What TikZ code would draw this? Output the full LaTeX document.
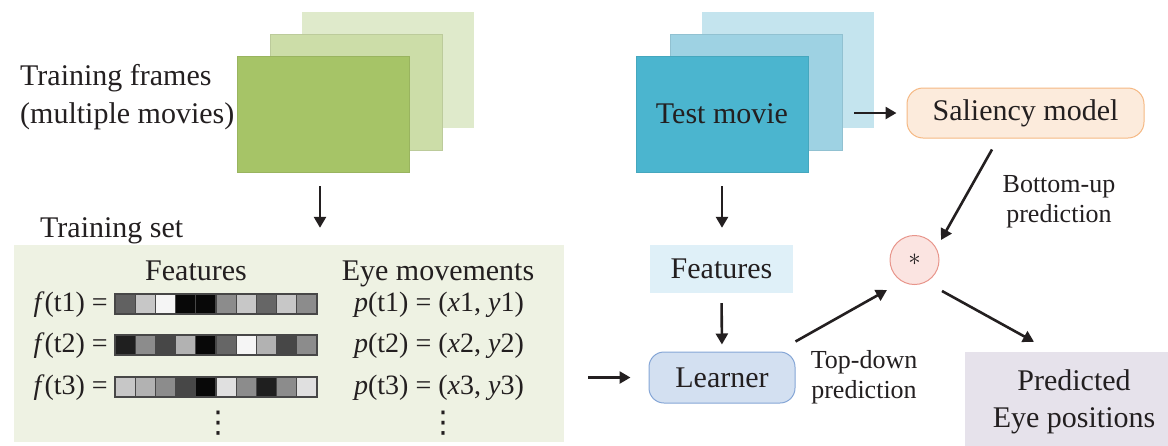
\documentclass[tikz,border=0pt]{standalone}
\usepackage{fontspec}
\setmainfont{Liberation Serif}
\newfontfamily\symfont{DejaVu Sans}
\usetikzlibrary{arrows.meta}

\definecolor{ink}{HTML}{231F20}
\definecolor{gA}{HTML}{A6C467}
\definecolor{gB}{HTML}{CCDDA8}
\definecolor{gC}{HTML}{DFEACB}
\definecolor{bA}{HTML}{4BB5CF}
\definecolor{bB}{HTML}{9ED2E3}
\definecolor{bC}{HTML}{C4E4EE}
\definecolor{setbg}{HTML}{EEF2E3}
\definecolor{featbg}{HTML}{DFF0F8}
\definecolor{learnbg}{HTML}{D3E0F1}
\definecolor{learnln}{HTML}{85A6D6}
\definecolor{salbg}{HTML}{FCEBDC}
\definecolor{salln}{HTML}{F5B883}
\definecolor{mulbg}{HTML}{FBE4E1}
\definecolor{mulln}{HTML}{E8958B}
\definecolor{predbg}{HTML}{E6E2EB}

\begin{document}
\begin{tikzpicture}[x=1pt,y=-1pt,
  every node/.style={text=ink},
  lbl/.style={font=\fontsize{30}{37}\selectfont, inner sep=0pt, align=center},
  small/.style={font=\fontsize{26}{30}\selectfont, inner sep=0pt, align=center},
  rowtxt/.style={font=\fontsize{28}{32}\selectfont, inner sep=0pt},
  vdotstxt/.style={font=\symfont\fontsize{30}{30}\selectfont, inner sep=0pt},
  frame/.style={rectangle, inner sep=0pt, minimum width=172, minimum height=116},
  arr/.style={draw=ink, line width=2.6pt, -{Triangle[length=11pt,width=12pt]}},
  cell/.style={draw=black!72, line width=1.3pt}]

\useasboundingbox (0,0) rectangle (1168,445);

% ---- training frames (stacked) ----
\node[frame, fill=gC] (gb) at (388,69.5) {};
\node[frame, fill=gB, draw=gB!92!black, line width=0.6pt] (gm) at (356.5,92) {};
\node[frame, fill=gA, draw=gA!92!black, line width=0.6pt] (gf) at (323,114) {};
\node[lbl, anchor=base west] (tf1) at (20,85) {Training frames};
\node[lbl, anchor=base west] (tf2) at (20,123) {(multiple movies)};

% ---- training set ----
\node[rectangle, fill=setbg, inner sep=0pt, minimum width=550, minimum height=197] (ts) at (289,343.5) {};
\node[lbl, anchor=base west] (tsl) at (40,237) {Training set};
\node[lbl, anchor=base] (fh) at (196,280) {Features};
\node[lbl, anchor=base] (eh) at (438,280) {Eye movements};

\foreach \yc/\vals [count=\r] in {304/{38,78,96,3,3,55,78,40,78,55},
                                  345/{12,55,28,70,3,40,96,70,28,55},
                                  387/{78,70,55,28,3,88,55,12,55,88}} {
  \foreach \v [count=\i from 0] in \vals {
    \fill[white!\v!black] (115+\i*20.2,\yc-10) rectangle (115+\i*20.2+20.2,\yc+10);
    \draw[cell] (115+\i*20.2,\yc-10) rectangle (115+\i*20.2+20.2,\yc+10);
  }
  \node[rowtxt, anchor=base east] (f\r) at (108,\yc+7) {\textit{f}(t\r) =};
  \node[rowtxt, anchor=base] (p\r) at (439,\yc+7) {\textit{p}(t\r) = (\textit{x}\r, \textit{y}\r)};
}
\node[vdotstxt] (vd1) at (218,423.5) {⋮};
\node[vdotstxt] (vd2) at (443,423.5) {⋮};

% ---- test movie (stacked) ----
\node[frame, fill=bC] (bb) at (788,69.5) {};
\node[frame, fill=bB, draw=bB!92!black, line width=0.6pt] (bm) at (756,92) {};
\node[frame, lbl, fill=bA, draw=bA!92!black, line width=0.6pt] (bf) at (722,114) {Test movie};

% ---- right-hand pipeline ----
\node[lbl, fill=featbg, minimum width=143, minimum height=48] (rf) at (721.5,269) {Features};
\node[lbl, fill=learnbg, draw=learnln, line width=1pt, rounded corners=15pt,
      minimum width=146, minimum height=51] (ln) at (722,377.5) {Learner};
\node[lbl, fill=salbg, draw=salln, line width=1pt, rounded corners=16pt,
      minimum width=237, minimum height=50] (sm) at (1025.5,113) {Saliency model};
\node[circle, fill=mulbg, draw=mulln, line width=1pt, minimum size=49, inner sep=0pt,
      font=\fontsize{26}{26}\selectfont] (st) at (914.5,260) {$\ast$};
\node[lbl, fill=predbg, minimum width=218, minimum height=100] (pr) at (1074,402)
      {Predicted\\Eye positions};

\node[small] (bul) at (1059,202) {Bottom-up\\prediction};
\node[small] (tdl) at (864,377) {Top-down\\prediction};

% ---- connectors ----
\draw[arr, shorten <=14pt, shorten >=17pt] ([xshift=-3pt]gf.south) -- ([xshift=-3pt]gf.south |- ts.north);
\draw[arr, shorten <=14pt, shorten >=17pt] (bf.south) -- (bf.south |- rf.north);
\draw[arr, shorten <=10pt, shorten >=7pt] (rf.south) -- (ln.north);
\draw[arr, shorten <=24pt, shorten >=18pt] (ts.east |- ln.west) -- (ln.west);
\draw[arr, shorten <=46pt, shorten >=10pt] (bf.east |- sm.west) -- (sm.west);
\draw[arr] ([shift={(-33.5,11)}]sm.south) -- ([shift={(26.5,-20)}]st.center);
\draw[arr] ([shift={(0,-10)}]ln.north east) -- ([shift={(-27.5,30)}]st.center);
\draw[arr] ([shift={(27.5,31)}]st.center) -- ([shift={(-40,-10)}]pr.north);

\end{tikzpicture}
\end{document}
